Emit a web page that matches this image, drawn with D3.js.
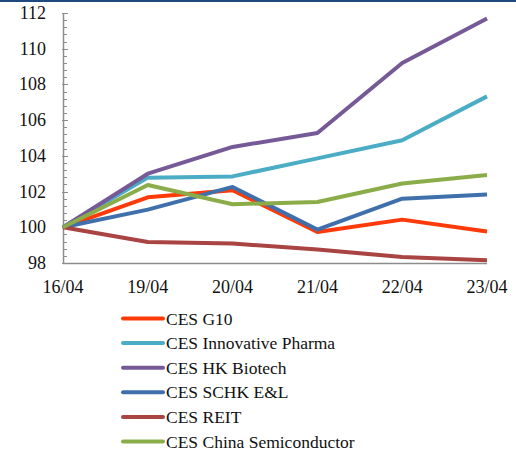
<!DOCTYPE html>
<html>
<head>
<meta charset="utf-8">
<script src="https://cdn.jsdelivr.net/npm/d3@7"></script>
<style>
  html, body { margin: 0; padding: 0; background: #fff; }
</style>
</head>
<body>
<div id="chart"></div>
<script>
(function () {
  'use strict';

  /* ── Data ── */
  var dates = ['16/04', '19/04', '20/04', '21/04', '22/04', '23/04'];
  var yTicks = [98, 100, 102, 104, 106, 108, 110, 112];

  var g10        = [100, 101.68, 102.07, 99.74, 100.43, 99.76];
  var pharma     = [100, 102.78, 102.85, 103.86, 104.87, 107.33];
  var biotech    = [100, 103.0, 104.5, 105.28, 109.2, 111.69];
  var schk       = [100, 100.99, 102.26, 99.87, 101.6, 101.83];
  var reit       = [100, 99.18, 99.09, 98.75, 98.34, 98.15];
  var semi       = [100, 102.37, 101.29, 101.42, 102.45, 102.93];

  var series = [
    { name: 'CES G10', values: g10, color: '#FF3A0A' },
    { name: 'CES Innovative Pharma', values: pharma, color: '#4BACC6' },
    { name: 'CES HK Biotech', values: biotech, color: '#765A98' },
    { name: 'CES SCHK E&L', values: schk, color: '#4070AC' },
    { name: 'CES REIT', values: reit, color: '#A94443' },
    { name: 'CES China Semiconductor', values: semi, color: '#8AAD4A' }
  ];

  var FONT = "'Liberation Serif', 'Times New Roman', Tinos, 'DejaVu Serif', serif";
  var W = 516, H = 452;
  var L = 63, R = 487, T = 13, B = 263;

  var svg = d3.select('#chart').append('svg')
    .attr('width', W).attr('height', H)
    .style('display', 'block');

  /* top rule */
  svg.append('rect')
    .attr('x', 0).attr('y', 0).attr('width', W).attr('height', 2)
    .attr('fill', '#1F497D');

  var x = d3.scalePoint().domain(dates).range([L, R]);
  var y = d3.scaleLinear().domain([98, 112]).range([B, T]);

  /* ── Y axis ── */
  var minor = d3.range(98, 112.001, 0.4);
  var yAxisG = svg.append('g');
  yAxisG.selectAll('line.minor')
    .data(minor)
    .join('line')
    .attr('x1', L).attr('x2', L + 4)
    .attr('y1', function (d) { return Math.round(y(d)) + 0.5; })
    .attr('y2', function (d) { return Math.round(y(d)) + 0.5; })
    .attr('stroke', '#8c8c8c').attr('stroke-width', 1);
  yAxisG.selectAll('line.major')
    .data(yTicks)
    .join('line')
    .attr('x1', L - 1).attr('x2', L + 5)
    .attr('y1', function (d) { return Math.round(y(d)) + 0.5; })
    .attr('y2', function (d) { return Math.round(y(d)) + 0.5; })
    .attr('stroke', '#8c8c8c').attr('stroke-width', 1);
  yAxisG.append('line')
    .attr('x1', L + 0.5).attr('x2', L + 0.5)
    .attr('y1', T).attr('y2', B + 1)
    .attr('stroke', '#8c8c8c').attr('stroke-width', 1.5);
  yAxisG.selectAll('text')
    .data(yTicks)
    .join('text')
    .attr('x', 46)
    .attr('y', function (d) { return y(d) + 6; })
    .attr('text-anchor', 'end')
    .attr('font-family', FONT)
    .attr('font-size', 18)
    .attr('fill', '#111')
    .text(function (d) { return d; });

  /* ── X axis ── */
  svg.append('line')
    .attr('x1', L).attr('x2', R)
    .attr('y1', B + 0.5).attr('y2', B + 0.5)
    .attr('stroke', '#8c8c8c').attr('stroke-width', 1.5);
  svg.append('g').selectAll('text')
    .data(dates)
    .join('text')
    .attr('x', function (d) { return x(d); })
    .attr('y', 293)
    .attr('text-anchor', 'middle')
    .attr('font-family', FONT)
    .attr('font-size', 18)
    .attr('fill', '#111')
    .text(function (d) { return d; });

  /* ── Lines ── */
  var line = d3.line()
    .x(function (d, i) { return x(dates[i]); })
    .y(function (d) { return y(d); });

  svg.append('g').selectAll('path')
    .data(series)
    .join('path')
    .attr('d', function (s) { return line(s.values); })
    .attr('fill', 'none')
    .attr('stroke', function (s) { return s.color; })
    .attr('stroke-width', 4)
    .attr('stroke-linejoin', 'round');

  /* ── Legend ── */
  var leg = svg.append('g').selectAll('g')
    .data(series)
    .join('g')
    .attr('transform', function (s, i) { return 'translate(0,' + (318.5 + i * 24.6) + ')'; });
  leg.append('line')
    .attr('x1', 123).attr('x2', 163)
    .attr('stroke', function (s) { return s.color; })
    .attr('stroke-width', 4)
    .attr('stroke-linecap', 'round');
  leg.append('text')
    .attr('x', 166)
    .attr('y', 6)
    .attr('font-family', FONT)
    .attr('font-size', 17.5)
    .attr('fill', '#111')
    .text(function (s) { return s.name; });
})();
</script>
</body>
</html>
